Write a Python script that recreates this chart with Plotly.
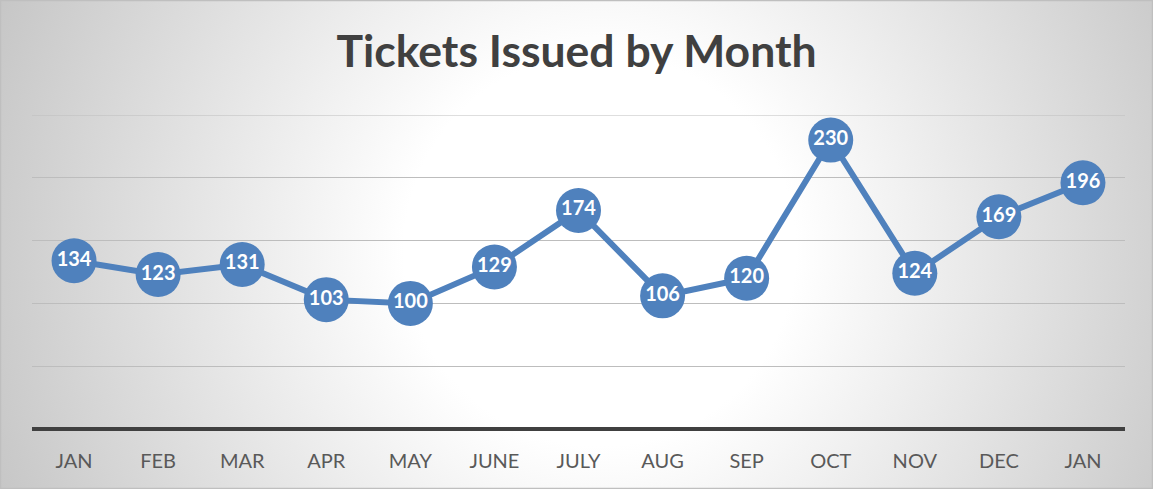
import base64
import plotly.graph_objects as go

months = ["JAN", "FEB", "MAR", "APR", "MAY", "JUNE", "JULY", "AUG", "SEP", "OCT", "NOV", "DEC", "JAN "]
tickets = [134, 123, 131, 103, 100, 129, 174, 106, 120, 230, 124, 169, 196]
title_text = "Tickets Issued by Month"
y_max = 250
grid_vals = [0, 50, 100, 150, 200, 250]

W, H = 1153, 489
ML, MR, MT, MB = 32, 28, 115, 60
PW, PH = W - ML - MR, H - MT - MB

svg = f'''<svg xmlns="http://www.w3.org/2000/svg" width="{W}" height="{H}" viewBox="0 0 {W} {H}">
<defs><radialGradient id="g" gradientUnits="userSpaceOnUse" cx="600" cy="250" r="700">
<stop offset="0" stop-color="#ffffff"/><stop offset="0.28" stop-color="#ffffff"/>
<stop offset="1" stop-color="#c0c0c0"/></radialGradient></defs>
<rect x="0" y="0" width="{W}" height="{H}" fill="url(#g)"/></svg>'''
bg = "data:image/svg+xml;base64," + base64.b64encode(svg.encode()).decode()

x_idx = list(range(len(months)))

fig = go.Figure()
fig.add_trace(go.Scatter(
    x=x_idx, y=tickets, mode="lines+markers+text",
    line=dict(color="#4F81BD", width=6),
    marker=dict(size=45, color="#4F81BD", line=dict(width=0)),
    text=[str(v) for v in tickets], textposition="middle center",
    textfont=dict(family="Lato", size=20, color="white", weight="bold"),
    cliponaxis=False, hoverinfo="skip",
))

fx0, fx1 = -ML / PW, 1 + MR / PW
fy0, fy1 = -MB / PH, 1 + MT / PH

fig.update_layout(
    width=W, height=H,
    margin=dict(l=ML, r=MR, t=MT, b=MB, pad=0),
    paper_bgcolor="rgba(0,0,0,0)", plot_bgcolor="rgba(0,0,0,0)",
    showlegend=False,
    title=dict(text=title_text, x=0.5, xref="container", xanchor="center",
               y=1 - 51 / H, yref="container", yanchor="middle",
               font=dict(family="Lato", size=44.5, color="#404040", weight="bold")),
    images=[dict(source=bg, xref="paper", yref="paper", x=fx0, y=fy1,
                 sizex=fx1 - fx0, sizey=fy1 - fy0, xanchor="left", yanchor="top",
                 sizing="stretch", layer="below")],
    shapes=[
        dict(type="rect", xref="paper", yref="paper", x0=fx0 + 0.5 / PW, x1=fx1 - 0.5 / PW,
             y0=fy0 + 0.5 / PH, y1=fy1 - 0.5 / PH, line=dict(color="#bfbfbf", width=1.5),
             layer="below"),
        dict(type="line", xref="paper", yref="y", x0=0, x1=1, y0=y_max, y1=y_max,
             line=dict(color="#bdbdbd", width=1), layer="below"),
    ],
    xaxis=dict(range=[-0.5, len(months) - 0.5], tickmode="array", tickvals=x_idx,
               ticktext=[m.strip() for m in months], showgrid=False, zeroline=False,
               showline=False, ticks="", ticklabelstandoff=18,
               tickfont=dict(family="Lato", size=20, color="#595959")),
    yaxis=dict(range=[0, y_max], tickvals=grid_vals, showticklabels=False,
               showgrid=True, gridcolor="#bdbdbd", gridwidth=1, zeroline=True,
               zerolinecolor="#404040", zerolinewidth=3.5, showline=False, ticks=""),
)

fig.write_html("out.html")
